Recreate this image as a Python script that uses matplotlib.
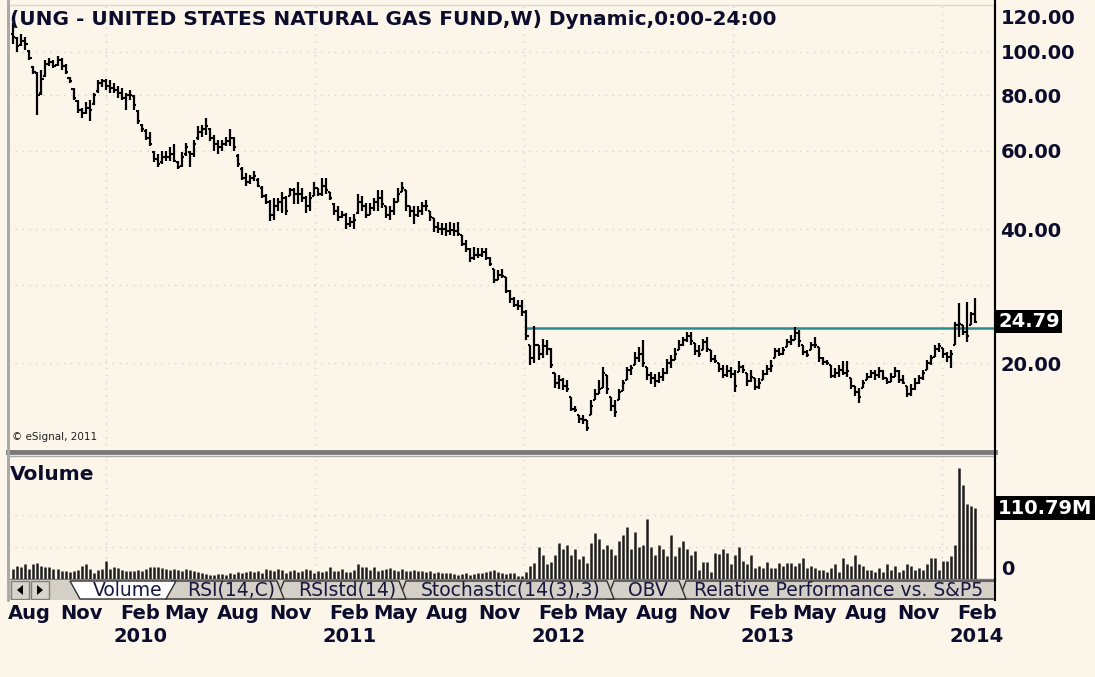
import numpy as np
import pandas as pd
import matplotlib
matplotlib.use("Agg")
import matplotlib.pyplot as plt
import matplotlib.dates as mdates
from matplotlib.patches import Polygon, Rectangle
from matplotlib.lines import Line2D
from matplotlib.ticker import FixedLocator, FixedFormatter, NullLocator

# weekly OHLC bars of UNG, first bar = week ending 2009-07-24
first_bar = '2009-07-24'

highs = [116, 108, 110, 108, 101, 93, 90, 91, 96, 97,
         96, 98, 97, 94, 88, 83, 78, 75, 77, 78,
         81, 86.5, 87, 87, 86.5, 85, 84, 83, 81, 82,
         80, 74, 69, 67, 66, 60, 59, 60, 60, 61,
         62, 57, 59.5, 62.5, 60, 63.5, 68, 68.5, 71, 67.5,
         65, 63.5, 63.5, 64.5, 67, 64.5, 59, 55, 53.5, 53,
         54, 52, 50, 48, 46.5, 47, 47, 48.5, 47.5, 49.5,
         49.5, 51, 49.5, 47.5, 48.5, 51, 49.5, 52, 52, 48.5,
         45.8, 45, 44, 43.5, 42.5, 43.2, 48, 47.5, 45.8, 45.8,
         47, 49, 49, 45, 45, 47, 49.5, 51, 49, 45,
         45, 45, 46, 46.5, 44, 42.3, 41.5, 41.3, 41.3, 41.5,
         41.3, 41.5, 38.8, 37.8, 36.3, 36.5, 36.3, 36.3, 36.3, 34.6,
         32.6, 32.4, 32.6, 31.2, 29.2, 28.1, 27.7, 27.7, 26.3, 22,
         24.2, 22, 22.7, 22.5, 21.6, 19, 18.8, 18.5, 18.3, 16.8,
         16, 15.3, 15.3, 14.9, 16.5, 17.5, 18.3, 19.6, 18.8, 16.8,
         16.5, 17.5, 18.3, 19.6, 19.8, 21.2, 21.7, 22.5, 19.6, 19.1,
         18.9, 19.1, 19.5, 20.4, 20.8, 21.6, 22.5, 22.9, 23.5, 23.5,
         22.2, 21.9, 22.7, 22.9, 21.4, 20.8, 20, 19.8, 19.8, 19.6,
         19.3, 20.2, 19.8, 19, 19.3, 18.5, 18.5, 19.3, 19.8, 20.3,
         21.6, 21.6, 21.7, 22.7, 23.1, 24.1, 23.7, 21.9, 21.4, 22.3,
         22.9, 21.7, 20.6, 20.3, 19.8, 19.5, 19.8, 20.2, 20.2, 18.5,
         17.8, 17.6, 18.3, 19, 19.3, 19.3, 19.6, 19.3, 18.5, 19,
         19.6, 19.3, 18.8, 17.8, 17.9, 18.5, 18.8, 19.3, 20.3, 20.8,
         21.9, 22.2, 21.6, 21.2, 21.4, 24.7, 27.3, 24.4, 27.4, 26,
         28]

lows = [104, 100, 103, 101, 96, 89, 72, 80, 88, 93,
        92, 93, 91, 89, 85, 78, 73, 71, 72.5, 70,
        76, 81, 83.5, 82, 81, 81, 79, 78, 74, 78,
        74, 69, 66, 63.5, 61.5, 56.5, 55, 56, 57, 57,
        56.5, 54.5, 55, 58.5, 55, 58, 63.5, 64.5, 65, 63,
        60, 59, 60, 61.5, 61.5, 60, 55, 51.5, 50, 50.5,
        51.3, 49.7, 47, 45.5, 41.8, 42, 44, 43.5, 43, 47.5,
        45.5, 45.5, 46, 43.5, 44, 47.5, 47.5, 47.5, 48, 46.5,
        43, 41.8, 42.3, 40, 40.5, 40, 43.2, 44, 42.3, 43,
        44, 44, 44.5, 42.3, 42, 43, 46, 48.5, 44, 42.5,
        41, 42.5, 43, 44, 41.8, 39.4, 39.2, 38.8, 38.5, 38.8,
        38.5, 38.5, 36.6, 35.6, 33.8, 34.1, 34.4, 34.6, 34.1, 33,
        30.3, 30.7, 31, 28.8, 27.3, 26.7, 26.3, 25.5, 22.5, 19.8,
        20, 20.3, 20.5, 20.9, 19.5, 17.6, 17.5, 17.4, 17.2, 15.6,
        15.5, 14.7, 14.6, 14.1, 15.3, 16.5, 17, 17.6, 17, 15.6,
        15.1, 16.5, 17.3, 18.3, 18.8, 19.8, 20.1, 19.6, 18.3, 17.9,
        17.7, 18, 18.2, 18.9, 19.5, 20.3, 21.4, 21.8, 22.3, 22,
        20.9, 20.6, 21.4, 21.2, 20.1, 20, 19.1, 18.5, 18.6, 18.5,
        17.2, 19.1, 19, 17.8, 18.1, 17.4, 17.5, 18.3, 18.8, 19.1,
        20.5, 20.7, 20.9, 21.7, 22, 22.5, 21.7, 20.9, 20.6, 21.4,
        21.6, 20.1, 19.8, 19.8, 18.5, 18.5, 18.6, 18.8, 18.6, 17.5,
        16.9, 16.3, 17.6, 18.3, 18.5, 18.3, 18.5, 18.3, 17.9, 18.1,
        18.6, 18, 17.9, 16.8, 16.9, 17.4, 17.9, 18.3, 19.3, 19.8,
        20.6, 21.2, 20.5, 20.1, 19.5, 21.9, 22.9, 23.1, 22.3, 24.4,
        24.6]

closes = [108, 103, 106, 104, 97, 90, 80, 87, 94, 95,
          93, 96, 93, 90, 86, 79, 74, 73, 75, 74,
          80, 85, 86, 84, 83, 82, 81, 79, 80, 80,
          76, 70, 67, 64, 62, 57.5, 56, 58, 58, 59,
          57, 55, 58, 61, 59, 62, 66, 67, 68, 64,
          62, 61, 62, 63, 64, 61, 56, 52, 51, 52,
          52.5, 50, 47.5, 46, 43, 45, 46, 47, 44, 49,
          48, 48, 47, 45, 47, 49.5, 48, 50, 49, 47,
          44, 42.5, 43, 41, 41.5, 42, 46, 45, 43, 44.5,
          46, 47, 45.5, 43, 44, 46, 48, 49.5, 45, 44,
          43, 44, 45, 45, 42.5, 40.5, 40, 40, 39.5, 39.8,
          39.5, 39, 37, 36, 34.5, 35, 35, 35.5, 34.5, 33.3,
          30.8, 31.5, 31.3, 29, 27.8, 27, 26.8, 26, 23, 20.5,
          22, 21, 21.8, 21.5, 19.8, 18, 18.3, 17.8, 17.5, 15.8,
          15.7, 15, 14.9, 14.3, 16, 17, 17.5, 19, 17.5, 16,
          15.5, 17.2, 18, 19.3, 19.5, 20.5, 21, 20, 18.8, 18.5,
          18.2, 18.6, 19, 20, 20.3, 21, 22, 22.5, 23, 22.4,
          21.3, 21, 22.3, 21.5, 20.4, 20.2, 19.4, 18.8, 19.2, 18.9,
          17.8, 19.6, 19.3, 18.2, 18.6, 17.7, 18, 18.9, 19.4, 19.7,
          21.3, 21, 21.4, 22.3, 22.5, 23.4, 22.4, 21.2, 20.8, 22,
          22, 20.5, 20.1, 20, 18.7, 19, 19.3, 19, 19.2, 17.8,
          17.2, 16.8, 18, 18.6, 19, 18.8, 19.2, 18.5, 18.1, 18.6,
          19.2, 18.3, 18, 17, 17.5, 18, 18.5, 19, 20, 20.5,
          21.5, 21.8, 21, 20.6, 21, 24.3, 24.5, 23.5, 23, 25.8,
          24.79]

opens = [110, 107.5, 103.5, 106, 100.5, 92.5, 89.5, 81, 88.5, 94,
         95, 93.5, 96, 93, 87.5, 82.5, 77.5, 74, 73, 75,
         76.5, 81.5, 85, 86, 84, 83, 82, 81, 79, 80,
         79.5, 73.5, 68.5, 66.5, 64, 59.5, 57.5, 56.5, 58, 58,
         59, 56.5, 55.5, 59, 59.5, 59, 64, 66, 67, 67,
         64, 62, 61, 62, 63, 64, 58.5, 54.5, 52, 51,
         52, 51.5, 49.5, 47.5, 46, 43, 45, 46, 47, 47.5,
         49, 48, 48, 47, 45, 47.5, 49.5, 48, 50, 48.5,
         45.5, 44, 42.5, 43, 41, 41.5, 43.5, 46, 45, 43,
         44.5, 46, 47, 45, 43, 44, 46, 48.5, 49, 45,
         44, 43, 44, 45, 44, 42.3, 40.5, 40, 40, 39.5,
         39.8, 39.5, 38.8, 37, 36, 34.5, 35, 35, 35.5, 34.5,
         32.6, 30.8, 31.5, 31.2, 29, 27.8, 27, 26.8, 26, 22,
         20.5, 22, 21, 21.8, 21.5, 19, 18, 18.3, 17.8, 16.8,
         15.8, 15.3, 15, 14.9, 15.3, 16.5, 17, 17.6, 18.8, 16.8,
         16, 16.5, 17.3, 18.3, 19.3, 19.8, 20.5, 21, 19.6, 18.8,
         18.5, 18.2, 18.6, 19, 20, 20.3, 21.4, 22, 22.5, 23,
         22.2, 21.3, 21.4, 22.3, 21.4, 20.4, 20, 19.4, 18.8, 19.2,
         18.9, 19.1, 19.6, 19, 18.2, 18.5, 17.7, 18.3, 18.9, 19.4,
         20.5, 21.3, 21, 21.7, 22.3, 22.5, 23.4, 21.9, 21.2, 21.4,
         22, 21.7, 20.5, 20.1, 19.8, 18.7, 19, 19.3, 19, 18.5,
         17.8, 17.2, 17.6, 18.3, 18.6, 19, 18.8, 19.2, 18.5, 18.1,
         18.6, 19.2, 18.3, 17.8, 17, 17.5, 18, 18.5, 19.3, 20,
         20.6, 21.5, 21.6, 21, 20.6, 21.9, 24.3, 24.4, 23.5, 24.4,
         25.8]

# weekly volume, millions of shares
volume_m = [15, 20, 18, 23, 15, 24, 25, 21, 19, 18,
            15, 16, 13, 12, 11, 13, 14, 20, 23, 15,
            10, 14, 15, 28, 16, 18, 17, 14, 13, 12,
            13, 14, 13, 15, 18, 18, 18, 17, 15, 14,
            15, 14, 13, 16, 14, 12, 11, 9, 8, 7,
            7, 8, 8, 7, 9, 8, 11, 9, 11, 13,
            11, 13, 10, 15, 14, 13, 15, 14, 10, 13,
            14, 11, 13, 16, 14, 10, 12, 11, 13, 18,
            12, 13, 15, 11, 11, 14, 23, 19, 18, 14,
            19, 13, 14, 16, 17, 14, 13, 15, 13, 12,
            14, 13, 12, 11, 12, 10, 11, 10, 9, 10,
            8, 7, 8, 9, 7, 8, 9, 10, 11, 13,
            14, 11, 9, 7.6, 10.1, 9.1, 5.0, 5.0, 11.1, 20.1,
            25.2, 50.4, 37.8, 22.7, 26.2, 37.8, 56.4, 46.3, 52.9, 37.8,
            46.8, 31.2, 35.3, 25.2, 56.4, 71.5, 62.4, 46.8, 52.9, 46.8,
            37.8, 59.4, 68.0, 80.6, 46.8, 74.0, 50.4, 52.9, 93.2, 50.4,
            37.8, 52.9, 46.8, 35.3, 68.0, 35.3, 50.4, 59.4, 46.8, 37.8,
            44.3, 14.1, 26.2, 26.2, 11.1, 41.3, 38.8, 46.8, 41.3, 22.7,
            37.8, 50.4, 28.7, 22.7, 37.8, 17.6, 20.1, 17.6, 26.2, 17.6,
            17.6, 25.2, 20.1, 25.2, 25.2, 20.1, 25.2, 32.7, 17.6, 20.1,
            17.6, 14.1, 14.1, 11.1, 17.6, 22.7, 11.1, 32.7, 22.7, 20.1,
            37.8, 22.7, 20.1, 14.1, 14.1, 11.1, 17.6, 11.1, 22.7, 14.1,
            20.1, 11.1, 14.1, 22.7, 20.1, 14.1, 17.6, 14.1, 22.7, 32.7,
            32.7, 14.1, 28.7, 28.7, 35.3, 52.9, 173.7, 147.1, 116.8, 114.3,
            110.79]

title = '(UNG - UNITED STATES NATURAL GAS FUND,W) Dynamic,0:00-24:00'
price_ticks = [120, 100, 80, 60, 40, 20]
price_grid = [100, 80, 60, 40, 30, 20]
volume_grid = [50, 100]
resistance = 24.0
resistance_from = 128      # bar where the drawn line starts
last_close_label = '24.79'
last_volume_label = '110.79M'
tab_names = ['Volume', 'RSI(14,C)', 'RSIstd(14)', 'Stochastic(14(3),3)', 'OBV',
             'Relative Performance vs. S&P5']

W, H = 1095, 677
BG = '#fcf6ea'
INK = '#0c0c2c'
GRID = '#d6d2c8'


def box(x0, y0, x1, y1):
    # pixel box with top-left origin -> figure fraction rect
    return [x0 / W, 1 - y1 / H, (x1 - x0) / W, (y1 - y0) / H]


plt.rcParams['font.family'] = 'DejaVu Sans'

fig = plt.figure(figsize=(W / 100, H / 100), dpi=100, facecolor=BG)
ax = fig.add_axes(box(8, 5, 995, 452), facecolor=BG)
axv = fig.add_axes(box(8, 456, 995, 579), facecolor=BG, sharex=ax)
axt = fig.add_axes(box(8, 580, 995, 600))

dates = pd.date_range(first_bar, periods=len(closes), freq='7D')
x = mdates.date2num(dates)
step = 7 / 4.01  # days per pixel
ax.set_xlim(x[0] - 5 * step, x[0] + 982 * step)

# gridlines
years = mdates.date2num(pd.date_range('2010-01-01', '2014-01-01', freq='YS'))
for a in (ax, axv):
    for yx in years:
        a.axvline(yx, color=GRID, lw=1, ls=(0, (1, 4)), zorder=0)
for g in price_grid:
    ax.axhline(g, color=GRID, lw=1, ls=(0, (1, 4)), zorder=0)
for g in volume_grid:
    axv.axhline(g, color=GRID, lw=1, ls=(0, (1, 4)), zorder=0)

# price bars
tick = 3.6
ax.vlines(x, lows, highs, color='black', lw=1.6, zorder=3)
ax.hlines(opens, x - tick, x, color='black', lw=1.5, zorder=3)
ax.hlines(closes, x, x + tick, color='black', lw=1.5, zorder=3)
ax.hlines(resistance, x[resistance_from] - 1, ax.get_xlim()[1], color='#2a8c8c', lw=1.8, zorder=2)

ax.set_yscale('log')
ax.set_ylim(12.62, 127.5)
ax.yaxis.set_major_locator(FixedLocator(price_ticks))
ax.yaxis.set_major_formatter(FixedFormatter(['%.2f' % v for v in price_ticks]))
ax.yaxis.set_minor_locator(NullLocator())
ax.yaxis.tick_right()
ax.tick_params(axis='y', length=0, pad=4, labelsize=14, labelcolor=INK)
for lbl in ax.get_yticklabels():
    lbl.set_fontweight('bold')
ax.tick_params(axis='x', length=0, labelbottom=False)

ax.text(1 + 3 / 987, float(last_close_label), last_close_label, transform=ax.get_yaxis_transform(),
        color='white', fontsize=14, fontweight='bold', va='center', ha='left',
        bbox=dict(fc='black', ec='none', pad=1.5), zorder=5)

ax.text(2 / 987, 0.988, title, transform=ax.transAxes, fontsize=14.5, fontweight='bold',
        color=INK, va='top', ha='left')
ax.text(4 / 987, 15 / 447, '\u00a9 eSignal, 2011', transform=ax.transAxes, fontsize=7.5,
        color='#202020', va='center', ha='left')

for side, sp in ax.spines.items():
    sp.set_color({'left': '#a9a9a9', 'top': '#d8d8d8', 'right': 'black', 'bottom': '#7a7a7a'}[side])
    sp.set_linewidth({'left': 2, 'top': 1, 'right': 1.5, 'bottom': 3.5}[side])

# volume panel
axv.vlines(x, 0, volume_m, color='#1e1e1e', lw=1.8, zorder=3)
axv.set_ylim(0, 192)
axv.set_yticks([])
axv.text(1 + 6 / 987, 0, '0', transform=axv.get_yaxis_transform(), fontsize=14,
         fontweight='bold', color=INK, va='bottom', ha='left')
axv.text(1 + 3 / 987, volume_m[-1], last_volume_label, transform=axv.get_yaxis_transform(),
         color='white', fontsize=14, fontweight='bold', va='center', ha='left',
         bbox=dict(fc='black', ec='none', pad=1.5), zorder=5)
axv.text(2 / 987, 0.85, 'Volume', transform=axv.transAxes, fontsize=14.5, fontweight='bold',
         color=INK, va='center', ha='left')
for side, sp in axv.spines.items():
    sp.set_color({'left': '#a9a9a9', 'top': '#a9a9a9', 'right': 'black', 'bottom': '#7a7a7a'}[side])
    sp.set_linewidth({'left': 2, 'top': 1, 'right': 1.5, 'bottom': 1}[side])

# month / year labels under the tab strip (text starts a little before the month)
months = pd.date_range('2009-08-01', '2014-02-01', freq='3MS')
labels = [d.strftime('%b') + ('\n%d' % d.year if d.month == 2 else '') for d in months]
axv.set_xticks(mdates.date2num(months) - 10 * step)
axv.set_xticklabels(labels, ha='left', ma='center', fontsize=14, fontweight='bold',
                    color=INK, linespacing=1.3)
axv.tick_params(axis='x', length=0, pad=18)

# tab strip
axt.set_xlim(8, 995)
axt.set_ylim(600, 580)
axt.axis('off')
axt.add_patch(Rectangle((8, 580), 987, 20, fc='#d4d0c8', ec='none'))
for bx in (11, 31):
    axt.add_patch(Rectangle((bx, 581), 18, 18, fc='#d8d4cc', ec='#808080', lw=1))
axt.add_patch(Polygon([[23, 585], [23, 595], [17, 590]], closed=True, fc='black', ec='none'))
axt.add_patch(Polygon([[37, 585], [37, 595], [43, 590]], closed=True, fc='black', ec='none'))

tab_edges = [(165, 284), (277, 406), (399, 614), (607, 686), (679, 1002)]
tab_text_x = [231, 347, 511, 648, 694]
for (L, R), name, tx in reversed(list(zip(tab_edges, tab_names[1:], tab_text_x))):
    axt.add_patch(Polygon([[L, 599], [L + 7, 581], [R - 7, 581], [R, 599]], closed=True,
                          fc='#d4d0c8', ec='#303030', lw=1, clip_on=True))
    axt.text(tx, 590.5, name, fontsize=13.5, color='#16163e', va='center',
             ha='left' if name.startswith('Relative') else 'center', clip_on=True)
axt.add_patch(Polygon([[70, 581], [80, 599], [166, 599], [176, 581]], closed=True,
                      fc='white', ec='#303030', lw=1))
axt.text(128, 590.5, tab_names[0], fontsize=13.5, color='#16163e', va='center', ha='center')

# frame lines running through all panels
fig.add_artist(Line2D([995 / W] * 2, [1, 1 - 600 / H], color='black', lw=1.5))
fig.add_artist(Line2D([8 / W] * 2, [1, 1 - 600 / H], color='#a9a9a9', lw=2))

fig.savefig('out.png', dpi=100, facecolor=BG)
